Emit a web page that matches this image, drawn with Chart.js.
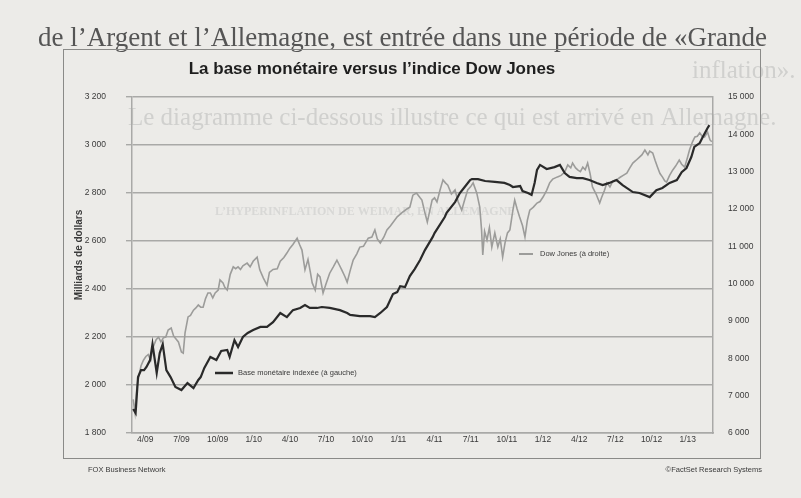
<!DOCTYPE html>
<html>
<head>
<meta charset="utf-8">
<script src="https://cdn.jsdelivr.net/npm/chart.js@4"></script>
<style>
  html, body { margin: 0; padding: 0; background: #ecebe8; }
  #wrap { width: 801px; height: 498px; position: relative; }
</style>
</head>
<body>
<div id="wrap"><canvas id="c" width="801" height="498"></canvas></div>
<script>
// x = mois depuis janvier 2009 (3 = avril 2009)
const xTickMonths = [3, 6, 9, 12, 15, 18, 21, 24, 27, 30, 33, 36, 39, 42, 45, 48];
const xTickLabels = ['4/09', '7/09', '10/09', '1/10', '4/10', '7/10', '10/10', '1/11',
  '4/11', '7/11', '10/11', '1/12', '4/12', '7/12', '10/12', '1/13'];

// Base monétaire indexée (milliards de dollars, axe de gauche)
const baseMonths = [2.0, 2.2, 2.4, 2.65, 2.9, 3.1, 3.4, 3.6, 3.95, 4.2, 4.45, 4.75, 5.1, 5.5, 6.0,
  6.5, 7.0, 7.4, 7.6, 7.9, 8.4, 8.9, 9.3, 9.8, 10.0, 10.4, 10.7, 11.1, 11.5, 11.95, 12.55, 13.1,
  13.6, 14.2, 14.75, 15.25, 15.85, 16.25, 16.65, 17.25, 17.65, 18.3, 19.15, 19.75, 20.0, 20.8,
  21.65, 22.05, 22.5, 23.05, 23.55, 23.9, 24.15, 24.55, 24.95, 25.35, 25.8, 26.2, 26.85, 27.0,
  27.85, 28.0, 28.7, 29.1, 29.5, 29.95, 30.1, 30.6, 31.2, 32.0, 32.8, 33.25, 33.5, 34.1, 34.3,
  34.75, 35.05, 35.3, 35.5, 35.75, 36.3, 36.95, 37.4, 37.8, 38.2, 38.8, 39.3, 39.85, 40.45, 40.95,
  41.5, 42.1, 42.6, 43.45, 44.0, 44.85, 45.4, 45.9, 46.5, 47.1, 47.5, 47.9, 48.3, 48.55, 49.0,
  49.25, 49.65, 49.8];
const baseValues = [1900, 1883, 2033, 2062, 2062, 2075, 2104, 2170, 2050, 2133, 2170, 2062, 2033,
  1992, 1979, 2008, 1987, 2021, 2033, 2071, 2117, 2104, 2142, 2146, 2117, 2187, 2158, 2200, 2217,
  2229, 2242, 2242, 2262, 2300, 2283, 2312, 2321, 2333, 2321, 2321, 2325, 2321, 2312, 2300, 2292,
  2287, 2287, 2283, 2300, 2325, 2379, 2387, 2412, 2408, 2454, 2483, 2521, 2562, 2617, 2633, 2700,
  2717, 2762, 2800, 2825, 2854, 2858, 2858, 2850, 2846, 2842, 2833, 2825, 2829, 2808, 2800, 2792,
  2842, 2896, 2917, 2900, 2908, 2917, 2883, 2867, 2862, 2862, 2854, 2842, 2833, 2842, 2854, 2833,
  2804, 2800, 2783, 2812, 2821, 2842, 2854, 2887, 2904, 2950, 2992, 3008, 3033, 3071, 3083];

// Dow Jones (axe de droite)
const dowMonths = [2.0, 2.15, 2.3, 2.45, 2.65, 2.85, 3.05, 3.25, 3.45, 3.65, 3.9, 4.1, 4.3, 4.5,
  4.7, 4.9, 5.15, 5.35, 5.5, 5.75, 6.0, 6.15, 6.3, 6.55, 6.75, 7.0, 7.2, 7.4, 7.6, 7.8, 8.0, 8.2,
  8.4, 8.6, 8.8, 9.05, 9.2, 9.45, 9.6, 9.8, 10.05, 10.3, 10.5, 10.7, 10.9, 11.1, 11.45, 11.7,
  11.95, 12.28, 12.5, 12.8, 13.1, 13.3, 13.6, 13.95, 14.2, 14.5, 14.75, 15.0, 15.25, 15.6, 15.8,
  16.0, 16.25, 16.5, 16.7, 16.85, 17.1, 17.3, 17.5, 17.75, 18.0, 18.3, 18.6, 18.9, 19.1, 19.3,
  19.55, 19.75, 20.0, 20.25, 20.55, 20.8, 21.1, 21.5, 21.8, 22.05, 22.25, 22.5, 22.8, 23.05,
  23.35, 23.9, 24.3, 24.7, 24.95, 25.2, 25.5, 25.8, 25.95, 26.2, 26.4, 26.6, 26.8, 27.0, 27.2,
  27.45, 27.7, 27.9, 28.1, 28.4, 28.7, 28.95, 29.25, 29.5, 29.75, 30.0, 30.2, 30.5, 30.75, 30.9,
  31.0, 31.15, 31.35, 31.55, 31.75, 32.0, 32.25, 32.45, 32.65, 32.85, 33.05, 33.25, 33.5, 33.65,
  33.85, 34.05, 34.3, 34.5, 34.7, 34.9, 35.2, 35.5, 35.75, 36.0, 36.3, 36.55, 36.8, 37.2, 37.5,
  37.8, 38.05, 38.3, 38.45, 38.7, 38.9, 39.1, 39.3, 39.5, 39.7, 39.9, 40.1, 40.4, 40.7, 40.85,
  41.1, 41.3, 41.55, 41.8, 42.1, 42.4, 42.65, 42.95, 43.2, 43.45, 43.7, 44.0, 44.2, 44.45, 44.7,
  44.85, 45.1, 45.3, 45.5, 45.7, 45.9, 46.1, 46.25, 46.5, 46.75, 47.0, 47.3, 47.5, 47.75, 48.0,
  48.15, 48.4, 48.6, 48.8, 49.0, 49.2, 49.4, 49.65, 49.85, 50.0];
const dowValues = [6900, 6550, 7200, 7500, 7800, 7950, 8050, 8100, 7950, 8300, 8500, 8570, 8440,
  8550, 8570, 8760, 8810, 8600, 8540, 8440, 8170, 8140, 8680, 9110, 9150, 9290, 9350, 9430, 9370,
  9370, 9600, 9750, 9750, 9620, 9750, 9830, 10100, 10020, 9900, 9830, 10250, 10450, 10400, 10450,
  10380, 10480, 10550, 10450, 10600, 10710, 10370, 10150, 9960, 10300, 10380, 10400, 10600, 10700,
  10820, 10950, 11050, 11220, 11050, 10900, 10370, 10650, 10300, 10020, 9830, 10250, 10180, 9750,
  10000, 10280, 10450, 10630, 10500, 10370, 10200, 10040, 10350, 10630, 10800, 10980, 11000, 11220,
  11250, 11440, 11200, 11090, 11250, 11440, 11550, 11790, 11900, 12000, 12050, 12370, 12430, 12300,
  12240, 11900, 11650, 11950, 12240, 12300, 12190, 12500, 12780, 12700, 12640, 12400, 12510, 12200,
  11970, 12250, 12510, 12600, 12700, 12430, 12050, 11440, 10770, 11400, 11170, 11500, 10980, 11360,
  10980, 11200, 10710, 11100, 11360, 11440, 11970, 12240, 12000, 11790, 11550, 11250, 11700, 11970,
  12050, 12160, 12200, 12320, 12500, 12700, 12800, 12860, 12900, 12990, 13180, 13100, 13230, 13100,
  13040, 13000, 13120, 13050, 13230, 12950, 12590, 12400, 12160, 12300, 12500, 12700, 12590, 12750,
  12780, 12850, 12900, 12960, 13100, 13230, 13300, 13390, 13450, 13580, 13450, 13550, 13500, 13300,
  13120, 12950, 12860, 12750, 12720, 12900, 13040, 13150, 13310, 13200, 13120, 13400, 13580, 13800,
  13930, 13950, 14040, 13950, 13930, 14060, 13850, 13800];

const toPoints = (xs, ys) => xs.map((x, i) => ({ x: x, y: ys[i] }));

const INK = '#3a3a3a';
const GRID = '#a9a9a7';

// Texte, cadre et légendes dessinés autour du graphique
const pagePlugin = {
  id: 'page',
  beforeDraw(chart) {
    const ctx = chart.ctx;
    ctx.save();
    ctx.fillStyle = '#ecebe8';
    ctx.fillRect(0, 0, chart.width, chart.height);
    // texte du livre au-dessus
    ctx.fillStyle = '#555555';
    ctx.font = '27px "Liberation Serif"';
    ctx.textBaseline = 'alphabetic';
    ctx.fillText('de l\u2019Argent et l\u2019Allemagne, est entrée dans une période de «Grande', 38, 46);
    ctx.font = '25px "Liberation Serif"';
    ctx.fillStyle = '#d0d0ce';
    ctx.fillText('inflation».', 692, 78);
    ctx.fillText('Le diagramme ci-dessous illustre ce qui est arrivé en Allemagne.', 128, 125);
    ctx.font = 'bold 12px "Liberation Serif"';
    ctx.fillStyle = '#d8d8d6';
    ctx.fillText('L\u2019HYPERINFLATION DE WEIMAR, EN ALLEMAGNE', 215, 215);
    // cadre
    ctx.strokeStyle = '#8a8a88';
    ctx.lineWidth = 1;
    ctx.strokeRect(63.5, 49.5, 697, 409);
    ctx.restore();
  },
  afterDraw(chart) {
    const ctx = chart.ctx;
    ctx.save();
    ctx.fillStyle = '#1e1e1e';
    ctx.font = 'bold 17px "Liberation Sans"';
    ctx.textAlign = 'center';
    ctx.textBaseline = 'middle';
    ctx.fillText('La base monétaire versus l\u2019indice Dow Jones', 372, 69);

    ctx.fillStyle = INK;
    ctx.font = 'bold 10px "Liberation Sans"';
    ctx.save();
    ctx.translate(79, 255);
    ctx.rotate(-Math.PI / 2);
    ctx.fillText('Milliards de dollars', 0, 0);
    ctx.restore();

    ctx.font = '7.5px "Liberation Sans"';
    ctx.textAlign = 'left';
    ctx.fillText('FOX Business Network', 88, 470);
    ctx.textAlign = 'right';
    ctx.fillText('©FactSet Research Systems', 762, 470);

    // légendes dans la zone du graphique
    ctx.textAlign = 'left';
    ctx.font = '7.5px "Liberation Sans"';
    ctx.strokeStyle = '#2a2a2a';
    ctx.lineWidth = 2.5;
    ctx.beginPath(); ctx.moveTo(215, 373); ctx.lineTo(233, 373); ctx.stroke();
    ctx.fillText('Base monétaire indexée (à gauche)', 238, 373);
    ctx.strokeStyle = '#9c9c9a';
    ctx.lineWidth = 2;
    ctx.beginPath(); ctx.moveTo(519, 254); ctx.lineTo(533, 254); ctx.stroke();
    ctx.fillText('Dow Jones (à droite)', 540, 254);
    ctx.restore();
  }
};

new Chart(document.getElementById('c'), {
  type: 'line',
  data: {
    datasets: [
      {
        label: 'Base monétaire indexée (à gauche)',
        data: toPoints(baseMonths, baseValues),
        yAxisID: 'y',
        borderColor: '#2a2a2a',
        borderWidth: 2.2,
        pointRadius: 0,
        tension: 0
      },
      {
        label: 'Dow Jones (à droite)',
        data: toPoints(dowMonths, dowValues),
        yAxisID: 'y1',
        borderColor: '#9c9c9a',
        borderWidth: 1.6,
        pointRadius: 0,
        tension: 0
      }
    ]
  },
  options: {
    responsive: false,
    animation: false,
    layout: { padding: { left: 62, right: 0, top: 97, bottom: 0 } },
    plugins: { legend: { display: false }, tooltip: { enabled: false }, title: { display: false } },
    scales: {
      x: {
        type: 'linear',
        min: 1.9,
        max: 50.1,
        afterFit: (s) => { s.height = 65; },
        afterBuildTicks: (s) => { s.ticks = xTickMonths.map(v => ({ value: v })); },
        ticks: {
          autoSkip: false,
          maxRotation: 0,
          padding: 2,
          color: INK,
          font: { family: 'Liberation Sans', size: 8.5 },
          callback: (v) => xTickLabels[xTickMonths.indexOf(v)] || ''
        },
        grid: { display: false, drawTicks: false },
        border: { display: true, color: GRID, width: 1.5 }
      },
      y: {
        position: 'left',
        min: 1800,
        max: 3200,
        afterFit: (s) => { s.width = 70; },
        ticks: {
          stepSize: 200,
          padding: 20,
          color: INK,
          font: { family: 'Liberation Sans', size: 8.5 },
          callback: (v) => v.toLocaleString('fr-FR').replace(/\u202f|\u00a0/g, ' ')
        },
        grid: { color: GRID, lineWidth: 1.4, tickLength: 6 },
        border: { display: true, color: GRID, width: 1.5 }
      },
      y1: {
        position: 'right',
        min: 6000,
        max: 15000,
        afterFit: (s) => { s.width = 88; },
        ticks: {
          stepSize: 1000,
          padding: 15,
          color: INK,
          font: { family: 'Liberation Sans', size: 8.5 },
          callback: (v) => v.toLocaleString('fr-FR').replace(/\u202f|\u00a0/g, ' ')
        },
        grid: { drawOnChartArea: false, drawTicks: false },
        border: { display: true, color: GRID, width: 1.5 }
      }
    }
  },
  plugins: [pagePlugin]
});
</script>
</body>
</html>
